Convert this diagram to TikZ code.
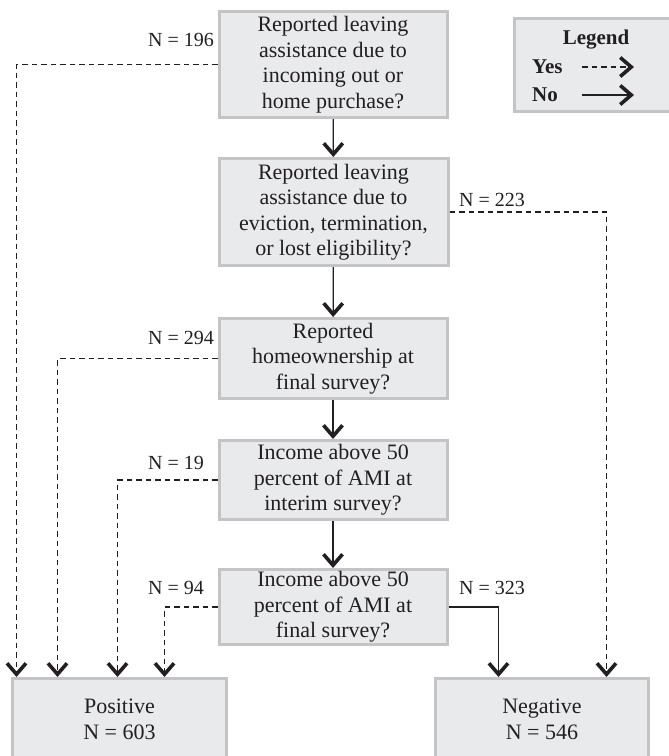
\documentclass[tikz,border=0pt]{standalone}
\usepackage{fontspec}
\setmainfont{Liberation Serif}
\usetikzlibrary{arrows.meta}
\definecolor{boxfill}{RGB}{233,234,236}
\definecolor{boxline}{RGB}{196,196,198}
\definecolor{ink}{RGB}{35,31,32}

\begin{document}
\begin{tikzpicture}[x=1pt,y=-1pt,>={Straight Barb[length=11pt,width=19pt,line width=3.6pt]},
  main node/.style={draw=boxline,fill=boxfill,line width=3pt,align=center,inner sep=0pt,text=ink,font=\fontsize{22}{25.5}\selectfont},
  count node/.style={text=ink,inner sep=0pt,anchor=west,font=\fontsize{20}{24}\selectfont},
  key node/.style={text=ink,inner sep=0pt,font=\bfseries\fontsize{21}{24}\selectfont},
  yes line/.style={->,line width=1.3pt,dash pattern=on 5.5pt off 4pt,ink},
  no line/.style={->,line width=1.3pt,ink}]
    \useasboundingbox (0,0) rectangle (669,756);

    % questions
    \node[main node,minimum width=228pt,minimum height=106pt] (1) at (333,64.5) {Reported leaving\\assistance due to\\incoming out or\\home purchase?};
    \node[main node,minimum width=229pt,minimum height=107pt] (2) at (333.5,212) {Reported leaving\\assistance due to\\eviction, termination,\\or lost eligibility?};
    \node[main node,minimum width=228pt,minimum height=80pt] (3) at (333,358.5) {Reported\\homeownership at\\final survey?};
    \node[main node,minimum width=228pt,minimum height=79pt] (4) at (333,480) {Income above 50\\percent of AMI at\\interim survey?};
    \node[main node,minimum width=228pt,minimum height=75pt] (5) at (333,607) {Income above 50\\percent of AMI at\\final survey?};

    % outcomes
    \node[main node,minimum width=214pt,minimum height=82pt] (pos) at (119.5,719.5) {Positive\\N = 603};
    \node[main node,minimum width=213pt,minimum height=82pt] (neg) at (542,719.5) {Negative\\N = 546};

    % counts
    \node[count node] (n196) at (148,40) {N = 196};
    \node[count node] (n223) at (459,200) {N = 223};
    \node[count node] (n294) at (148,338) {N = 294};
    \node[count node] (n19) at (148,463) {N = 19};
    \node[count node] (n94) at (148,588) {N = 94};
    \node[count node] (n323) at (459,588) {N = 323};

    % legend
    \node[main node,minimum width=161pt,minimum height=93pt] (legend) at (595,65) {};
    \node[key node] (key) at (596,40) {Legend};
    \node[key node,anchor=west] (key yes) at (532,67) {Yes};
    \node[key node,anchor=west] (key no) at (532,95) {No};
    \coordinate (yes start) at (582,67);
    \coordinate (yes end) at (634,67);
    \coordinate (no start) at (582,95);
    \coordinate (no end) at (634,95);
    \draw[yes line] (yes start) -- (yes end);
    \draw[no line] (no start) -- (no end);

    \path[no line]
        (1) edge (2)
        (2) edge (3)
        (3) edge (4)
        (4) edge (5)
        ;
    \draw[yes line] (1.west) -| ([xshift=5.5pt]pos.north west);
    \draw[yes line] (3.west) -| ([xshift=46.5pt]pos.north west);
    \draw[yes line] (4.west) -| ([xshift=106.5pt]pos.north west);
    \draw[yes line] (5.west) -| ([xshift=153.5pt]pos.north west);
    \draw[yes line] (2.east) -| ([xshift=172.5pt]neg.north west);
    \draw[no line] (5.east) -| ([xshift=64.5pt]neg.north west);
\end{tikzpicture}
\end{document}
